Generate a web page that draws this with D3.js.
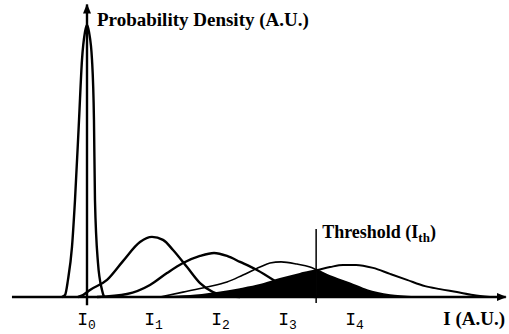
<!DOCTYPE html>
<html>
<head>
<meta charset="utf-8">
<script src="https://cdn.jsdelivr.net/npm/d3@7"></script>
<style>
  html, body { margin: 0; padding: 0; background: #fff; }
  svg { display: block; }
</style>
</head>
<body>
<div id="chart"></div>
<script>
// Intensity levels (in units of level spacing) and their labels
const levels = [0, 1, 2, 3, 4];
const levelLabels = ["0", "1", "2", "3", "4"];
const threshold = 3.42;

// Probability density curves for each level, [intensity, density]
const densityI0 = [[-0.373,0],[-0.328,0.007],[-0.284,0.063],[-0.224,0.184],[-0.179,0.357],[-0.119,0.651],[-0.075,0.871],[-0.030,0.974],[0,1.0],[0.030,0.974],[0.075,0.871],[0.104,0.651],[0.119,0.357],[0.164,0.125],[0.224,0.026],[0.254,0]];
const densityI1 = [[-0.134,0],[-0.060,0.007],[0.045,0.026],[0.299,0.063],[0.537,0.132],[0.791,0.202],[0.970,0.221],[1.134,0.210],[1.284,0.173],[1.493,0.110],[1.687,0.051],[1.881,0.018],[2.090,0.004],[2.284,0]];
const densityI2 = [[0.149,0],[0.597,0.011],[0.940,0.044],[1.194,0.088],[1.433,0.125],[1.687,0.151],[1.896,0.162],[2.090,0.151],[2.284,0.129],[2.537,0.099],[2.776,0.063],[2.955,0.033],[3.179,0.011],[3.403,0]];
const densityI3 = [[1.090,0],[1.433,0.018],[1.791,0.037],[2.090,0.055],[2.328,0.081],[2.582,0.110],[2.731,0.125],[2.896,0.129],[3.134,0.121],[3.328,0.110],[3.433,0.099],[3.627,0.077],[3.925,0.051],[4.179,0.026],[4.522,0.007],[4.896,0]];
const densityI4 = [[1.015,0],[1.537,0.004],[1.940,0.015],[2.284,0.029],[2.582,0.044],[2.881,0.066],[3.179,0.085],[3.433,0.099],[3.627,0.110],[3.821,0.118],[4.015,0.118],[4.269,0.107],[4.522,0.085],[4.776,0.063],[5.045,0.040],[5.269,0.029],[5.522,0.018],[5.761,0.007],[6.015,0]];

const W = 509, H = 334;
const x = d3.scaleLinear().domain([0, 4]).range([87, 355]);
const y = d3.scaleLinear().domain([0, 1]).range([297, 25]);

const svg = d3.select("#chart").append("svg")
  .attr("width", W).attr("height", H);

const defs = svg.append("defs");
defs.append("marker")
  .attr("id", "arrow")
  .attr("viewBox", "0 0 10 8")
  .attr("refX", 9).attr("refY", 4)
  .attr("markerWidth", 10).attr("markerHeight", 8)
  .attr("markerUnits", "userSpaceOnUse")
  .attr("orient", "auto")
  .append("path").attr("d", "M0,0L10,4L0,8Z").attr("fill", "#000");

// clip regions on either side of the threshold
defs.append("clipPath").attr("id", "below-th")
  .append("rect").attr("x", 0).attr("y", 0).attr("width", x(threshold)).attr("height", H);
defs.append("clipPath").attr("id", "above-th")
  .append("rect").attr("x", x(threshold)).attr("y", 0).attr("width", W - x(threshold)).attr("height", H);

const line = d3.line()
  .x(d => x(d[0])).y(d => y(d[1]))
  .curve(d3.curveMonotoneX);
const area = d3.area()
  .x(d => x(d[0])).y0(y(0)).y1(d => y(d[1]))
  .curve(d3.curveMonotoneX);

// error region: I4 tail below threshold, I3 tail above threshold
svg.append("path").datum(densityI4).attr("d", area)
  .attr("fill", "#000").attr("clip-path", "url(#below-th)");
svg.append("path").datum(densityI3).attr("d", area)
  .attr("fill", "#000").attr("clip-path", "url(#above-th)");

const curves = [
  { data: densityI0, w: 2.4 },
  { data: densityI1, w: 2.4 },
  { data: densityI2, w: 2.4 },
  { data: densityI3, w: 1.6 },
  { data: densityI4, w: 2.0 }
];
svg.selectAll("path.density").data(curves).enter()
  .append("path").attr("class", "density")
  .attr("d", d => line(d.data))
  .attr("fill", "none").attr("stroke", "#000")
  .attr("stroke-width", d => d.w)
  .attr("stroke-linejoin", "round");

// horizontal intensity axis with arrow
svg.append("line")
  .attr("x1", x(-1.12)).attr("x2", x(6.25))
  .attr("y1", y(0)).attr("y2", y(0))
  .attr("stroke", "#000").attr("stroke-width", 2.4)
  .attr("marker-end", "url(#arrow)");

// vertical density axis with arrow
svg.append("line")
  .attr("x1", x(0)).attr("x2", x(0))
  .attr("y1", y(-0.03)).attr("y2", y(1.075))
  .attr("stroke", "#000").attr("stroke-width", 2.4)
  .attr("marker-end", "url(#arrow)");

// threshold line
svg.append("line")
  .attr("x1", x(threshold)).attr("x2", x(threshold))
  .attr("y1", y(-0.022)).attr("y2", y(0.25))
  .attr("stroke", "#000").attr("stroke-width", 1.5);

// level labels along the intensity axis
const axis = d3.axisBottom(x)
  .tickValues(levels)
  .tickSize(0)
  .tickPadding(0)
  .tickFormat("");
const axisG = svg.append("g")
  .attr("transform", `translate(0,${y(0)})`)
  .call(axis);
axisG.select(".domain").remove();
axisG.selectAll(".tick text").remove();
axisG.selectAll(".tick").each(function(d, i) {
  const t = d3.select(this).append("text")
    .attr("y", 28)
    .attr("x", -1)
    .attr("text-anchor", "middle")
    .attr("fill", "#000")
    .style("font-family", "'Liberation Mono', 'DejaVu Sans Mono', monospace")
    .style("font-size", "18px");
  t.append("tspan").text("I");
  t.append("tspan").attr("dy", 4).style("font-size", "13px").text(levelLabels[i]);
});

const serif = "'Liberation Serif', 'Times New Roman', serif";

svg.append("text")
  .attr("x", x(0) + 10).attr("y", 26)
  .style("font-family", serif).style("font-weight", "bold").style("font-size", "19px")
  .text("Probability Density (A.U.)");

const th = svg.append("text")
  .attr("x", x(threshold) + 6).attr("y", 238)
  .style("font-family", serif).style("font-weight", "bold").style("font-size", "18px");
th.append("tspan").text("Threshold (I");
th.append("tspan").attr("dy", 4).style("font-size", "13px").text("th");
th.append("tspan").attr("dy", -4).text(")");

svg.append("text")
  .attr("x", 505).attr("y", 325)
  .attr("text-anchor", "end")
  .style("font-family", serif).style("font-weight", "bold").style("font-size", "19px")
  .text("I (A.U.)");
</script>
</body>
</html>
